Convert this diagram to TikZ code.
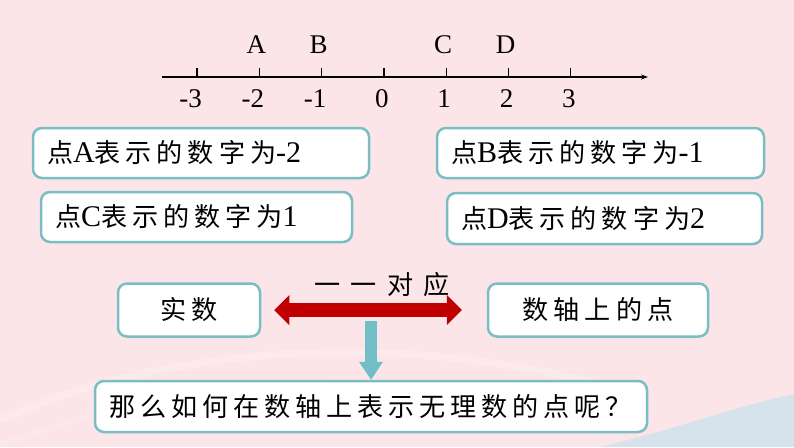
\documentclass[tikz,border=0pt]{standalone}
\usepackage{fontspec}
\setmainfont{Liberation Serif}
\newfontfamily\cjk{Noto Sans CJK SC}[Scale=0.87,LetterSpace=19]
\newfontfamily\cjkwide{Noto Sans CJK SC}[Scale=0.87,LetterSpace=40]
\usetikzlibrary{arrows.meta}
\definecolor{bgpink}{RGB}{252,229,232}
\definecolor{boxteal}{RGB}{122,190,196}
\definecolor{droptealc}{RGB}{114,190,198}
\definecolor{corrred}{RGB}{192,0,0}
\definecolor{wavegray}{RGB}{214,227,236}
\newcommand{\zh}[1]{{\cjk #1}}

\begin{document}
\begin{tikzpicture}[x=1pt,y=-1pt,
  every node/.style={font=\fontsize{30}{32}\selectfont},
  tick label/.style={font=\fontsize{27}{28}\selectfont,inner sep=0pt},
  infobox/.style={draw=boxteal,line width=2.5pt,fill=white,rounded corners=9pt,inner xsep=14pt,inner ysep=0pt,align=left},
  wordbox/.style={draw=boxteal,line width=2.5pt,fill=white,rounded corners=9pt,align=center,minimum height=53pt}]
% background and waves
\fill[bgpink] (0,0) rectangle (794,447);
\useasboundingbox (0,0) rectangle (794,447);
\draw[white,opacity=0.22,line width=7pt] (0,420) .. controls (180,340) and (420,330) .. (640,395);
\draw[white,opacity=0.15,line width=5pt] (0,445) .. controls (200,370) and (430,360) .. (600,420);
\fill[wavegray] (600,447) .. controls (680,428) and (740,405) .. (794,394) -- (794,447) -- cycle;
% number line
\coordinate (axisstart) at (162,77); \coordinate (axisend) at (648,77);
\draw[line width=1.3pt,-{Stealth[length=7pt,width=5pt]}] (axisstart) -- (axisend);
\foreach \i in {0,...,6} {\pgfmathtruncatemacro{\v}{\i-3}
  \draw[line width=1.3pt] (197+\i*62.3,68) -- (197+\i*62.3,77);
  \node[tick label] (num\i) at (195+\i*62.3,99) {\ifnum\v<0 \llap{-}\number-\v\else\v\fi};}
\foreach \i/\p in {1/A,2/B,4/C,5/D} \node[tick label] (pt\p) at (194+\i*62.3,45) {\p};
% what each point stands for
\node[infobox,text width=308pt,minimum height=50pt] (boxA) at (201,153) {\zh{点}A\zh{表示的数字为}-2};
\node[infobox,text width=283pt,minimum height=50pt] (boxC) at (196.5,217) {\zh{点}C\zh{表示的数字为}1};
\node[infobox,text width=299pt,minimum height=50pt] (boxB) at (600.5,153) {\zh{点}B\zh{表示的数字为}-1};
\node[infobox,text width=287pt,minimum height=51pt] (boxD) at (604.5,218.5) {\zh{点}D\zh{表示的数字为}2};
% one-to-one correspondence
\node[wordbox,minimum width=142pt] (real) at (189,310) {\zh{实数}};
\node[wordbox,minimum width=220pt] (points) at (598,310) {\zh{数轴上的点}};
\draw[corrred,line width=14pt,shorten <=13pt,shorten >=25pt,
  {Triangle[length=15pt,width=30pt,line width=0pt]}-{Triangle[length=15pt,width=30pt,line width=0pt]}] (real) -- (points);
\node[inner sep=0pt] (onetoone) at (382,285) {\cjkwide 一一对应};
\node[infobox,text width=524pt,minimum height=51pt] (ask) at (371,406.5) {\zh{那么如何在数轴上表示无理数的点呢？}};
\coordinate (drop) at (371,321);
\draw[droptealc,line width=12pt,-{Triangle[length=18pt,width=24pt,line width=0pt]}] (drop) -- (ask.north);
\end{tikzpicture}
\end{document}
